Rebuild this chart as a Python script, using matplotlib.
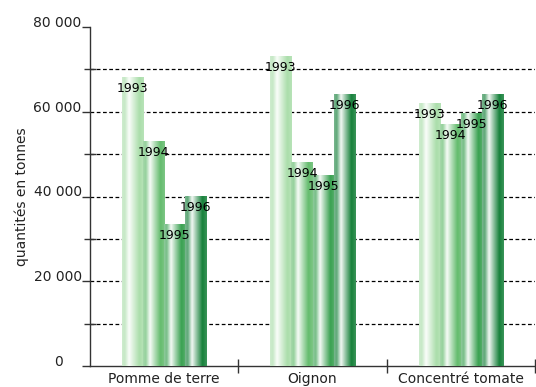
import numpy as np
import matplotlib.pyplot as plt
from matplotlib.colors import to_rgb
from matplotlib.ticker import MultipleLocator

categories = ['Pomme de terre', 'Oignon', 'Concentré tomate']
years = ['1993', '1994', '1995', '1996']
values = {
    '1993': [68000, 73000, 62000],
    '1994': [53000, 48000, 57000],
    '1995': [33500, 45000, 59500],
    '1996': [40000, 64000, 64000],
}
yticks = [0, 20000, 40000, 60000, 80000]
# the zero is padded with figure spaces so it sits left of the others
ytick_labels = ['0\u2007\u2007', '20 000', '40 000', '60 000', '80 000']

# base tone of each year's cylinder, lightest to darkest
year_colors = ['#a6dca6', '#5cb866', '#2f9c48', '#0a7a30']

# horizontal shading profile: share of white mixed into the base colour
prof_t = [0.0, 0.12, 0.32, 0.5, 0.8, 1.0]
prof_w = [0.45, 0.35, 0.95, 0.6, 0.05, 0.2]

plt.rcParams['font.family'] = 'DejaVu Sans'
fig = plt.figure(figsize=(5.36, 3.87), dpi=100)
ax = fig.add_axes([90 / 536, 21 / 387, 445 / 536, 339 / 387])

x = np.arange(len(categories))
w = 0.142
txt = '#222222'


def cylinder(color, n=64):
    t = np.linspace(0, 1, n)
    white = np.interp(t, prof_t, prof_w)
    base = np.array(to_rgb(color))
    rgb = base[None, :] * (1 - white[:, None]) + white[:, None]
    return rgb[None, :, :]


for i, yr in enumerate(years):
    bars = ax.bar(x + (i - 1.5) * w, values[yr], width=w, color=year_colors[i],
                  linewidth=0, zorder=2)
    img = cylinder(year_colors[i])
    for b, v in zip(bars, values[yr]):
        ax.imshow(img, extent=[b.get_x(), b.get_x() + b.get_width(), 0, b.get_height()],
                  aspect='auto', zorder=3, interpolation='bilinear')
        ax.annotate(yr, (b.get_x() + b.get_width() / 2, v), xytext=(0, -8),
                    textcoords='offset points', ha='center', va='center',
                    fontsize=9, color='black', zorder=5)

# dashed grid at every 10 000 between the floor and the top
for g in range(10000, 80000, 10000):
    ax.axhline(g, color='black', lw=0.9, ls=(0, (3, 2)), zorder=1)

ax.set_xlim(-0.5, 2.5)
ax.set_ylim(0, 80000)

for s in ['top', 'right']:
    ax.spines[s].set_visible(False)
for s in ['left', 'bottom']:
    ax.spines[s].set_color('#333333')
    ax.spines[s].set_linewidth(1)

ax.set_yticks(yticks)
ax.set_yticklabels(ytick_labels, fontsize=10, color=txt)
for lab in ax.get_yticklabels():
    lab.set_va('baseline')
ax.yaxis.set_minor_locator(MultipleLocator(10000))
ax.tick_params(axis='y', which='major', direction='out', length=6, width=1,
               color='#333333', pad=0)
ax.tick_params(axis='y', which='minor', direction='inout', length=8, width=1,
               color='#333333')

ax.set_xticks(x)
ax.set_xticklabels(categories, fontsize=10, color=txt)
ax.tick_params(axis='x', which='major', length=0, pad=4)
ax.set_xticks([0.5, 1.5, 2.5], minor=True)
ax.tick_params(axis='x', which='minor', direction='inout', length=10, width=1,
               color='#333333')

ax.set_ylabel('quantités en tonnes', fontsize=10, color=txt)
ax.yaxis.set_label_coords(-0.137, 0.5)

fig.savefig('out.png', dpi=100)
